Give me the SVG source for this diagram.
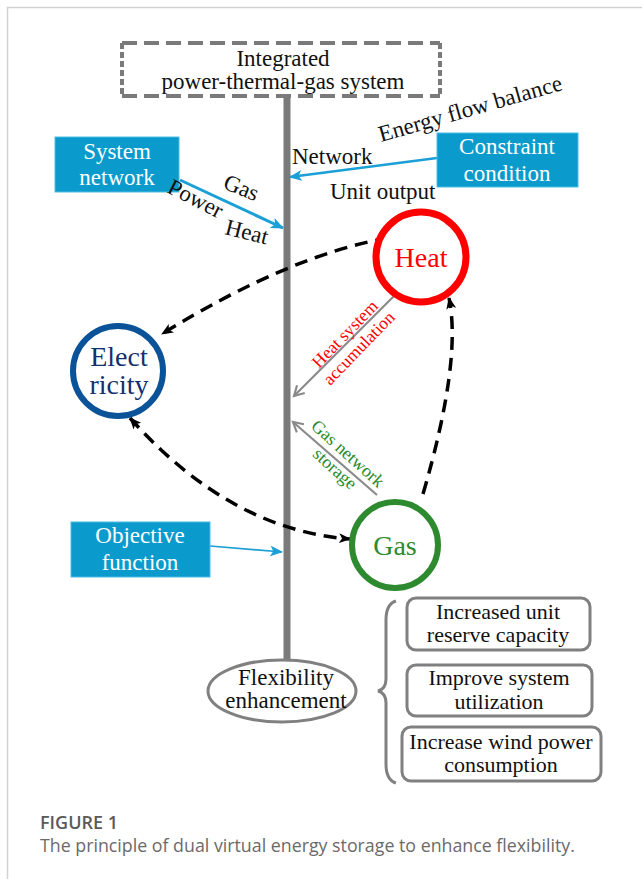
<svg xmlns="http://www.w3.org/2000/svg" width="642" height="879" viewBox="0 0 642 879">
<defs>
<style>
.t{font-family:"Liberation Serif","Times New Roman",serif;font-size:23px;fill:#111}
.b{font-size:22px}
.w{font-family:"Liberation Serif","Times New Roman",serif;font-size:23px;fill:#fff;text-anchor:middle}
.c{font-family:"Liberation Serif","Times New Roman",serif;font-size:28px;text-anchor:middle}
.m{text-anchor:middle}
.bx{fill:#0a9bcc;stroke:#4dbbe3;stroke-width:1}
.rb{fill:#fff;stroke:#808080;stroke-width:3}
.dash{fill:none;stroke:#000;stroke-width:3.5;stroke-dasharray:13 8}
.gray{fill:none;stroke:#8a8a8a;stroke-width:2.2}
.blue{fill:none;stroke:#1a9fd6}
</style>
<marker id="ab" viewBox="0 0 12 10" refX="11" refY="5" markerWidth="12" markerHeight="10" markerUnits="userSpaceOnUse" orient="auto-start-reverse">
<path d="M0,0 L12,5 L0,10 L3,5 z" fill="#000"/>
</marker>
<marker id="ag" viewBox="0 0 12 12" refX="10" refY="6" markerWidth="13" markerHeight="13" markerUnits="userSpaceOnUse" orient="auto">
<path d="M1,1 L10,6 L1,11" fill="none" stroke="#8a8a8a" stroke-width="2"/>
</marker>
<marker id="abl" viewBox="0 0 12 10" refX="11" refY="5" markerWidth="13" markerHeight="11" markerUnits="userSpaceOnUse" orient="auto">
<path d="M0,0 L12,5 L0,10 L3,5 z" fill="#1a9fd6"/>
</marker>
</defs>
<rect width="642" height="879" fill="#fff"/>
<path d="M7.5,879 L7.5,7.5 L642,7.5" fill="none" stroke="#d2d2d2" stroke-width="1.5"/>

<g id="connectors">
<line x1="287" y1="98" x2="287" y2="660" stroke="#7a7a7a" stroke-width="7" stroke-linecap="round"/>
<line class="blue" x1="180" y1="180" x2="283" y2="228" stroke-width="3" marker-end="url(#abl)"/>
<line class="blue" x1="437" y1="158" x2="290" y2="177" stroke-width="2.5" marker-end="url(#abl)"/>
<line class="blue" x1="210" y1="546" x2="282" y2="552" stroke-width="1.6" marker-end="url(#abl)"/>
<path class="dash" d="M388,238 Q290,255 162,334" marker-end="url(#ab)"/>
<path class="dash" d="M130,418 Q230,530 350,539" marker-start="url(#ab)" marker-end="url(#ab)"/>
<path class="dash" d="M423,494 Q462,360 449,298" marker-end="url(#ab)"/>
<line class="gray" x1="396" y1="294" x2="294" y2="396" marker-end="url(#ag)"/>
<line class="gray" x1="377" y1="495" x2="293" y2="422" marker-end="url(#ag)"/>
<path d="M396,601 Q386,604 386,620 L386,679 Q386,689 378,691 Q386,693 386,703 L386,764 Q386,780 396,783" fill="none" stroke="#808080" stroke-width="3"/>
</g>

<g id="title">
<path d="M122,43 L440,43 M122,96 L440,96" stroke="#7a7a7a" stroke-width="4" stroke-dasharray="15 7" fill="none"/>
<path d="M122,43 L122,96 M440,43 L440,96" stroke="#7a7a7a" stroke-width="4" stroke-dasharray="6 3" fill="none"/>
<text class="t m" x="283" y="66" font-size="23.5">Integrated</text>
<text class="t m" x="283" y="89" font-size="23.5">power-thermal-gas system</text>
</g>

<g id="system-network">
<rect class="bx" x="55" y="137" width="124" height="55"/>
<text class="w" x="117" y="159">System</text>
<text class="w" x="117" y="185">network</text>
</g>

<g id="constraint">
<rect class="bx" x="437" y="133" width="141" height="54"/>
<text class="w" x="507" y="154">Constraint</text>
<text class="w" x="507" y="181">condition</text>
</g>

<g id="objective">
<rect class="bx" x="71" y="522" width="139" height="55"/>
<text class="w" x="140" y="543">Objective</text>
<text class="w" x="140" y="570">function</text>
</g>

<g id="heat">
<circle cx="421" cy="257" r="45" fill="#fff" stroke="#f00" stroke-width="7"/>
<text class="c" x="421" y="267" fill="#f00">Heat</text>
</g>

<g id="electricity">
<circle cx="118" cy="371" r="45" fill="#fff" stroke="#0b5398" stroke-width="6"/>
<text class="c" x="119" y="366" fill="#12306e">Elect</text>
<text class="c" x="119" y="394" fill="#12306e">ricity</text>
</g>

<g id="gas">
<circle cx="395" cy="545" r="43" fill="#fff" stroke="#2e8a2e" stroke-width="6"/>
<text class="c" x="395" y="555" fill="#2e8a2e">Gas</text>
</g>

<g id="flexibility">
<ellipse cx="282" cy="691" rx="74" ry="31" fill="#fff" stroke="#808080" stroke-width="3"/>
<text class="t m" x="286" y="685">Flexibility</text>
<text class="t m" x="286" y="708">enhancement</text>
</g>

<g id="reserve">
<rect class="rb" x="407" y="598" width="183" height="52" rx="9"/>
<text class="t b m" x="498" y="619">Increased unit</text>
<text class="t b m" x="498" y="642">reserve capacity</text>
</g>

<g id="utilization">
<rect class="rb" x="407" y="665" width="185" height="51" rx="9"/>
<text class="t b m" x="499" y="685">Improve system</text>
<text class="t b m" x="499" y="709">utilization</text>
</g>

<g id="wind">
<rect class="rb" x="402" y="727" width="199" height="54" rx="9"/>
<text class="t b m" x="501" y="749">Increase wind power</text>
<text class="t b m" x="501" y="772">consumption</text>
</g>

<g id="labels">
<text class="t" transform="translate(222,188) rotate(22)">Gas</text>
<text class="t" transform="translate(166,192) rotate(27)">Power</text>
<text class="t" transform="translate(224,234) rotate(14)">Heat</text>
<text class="t" x="292" y="164">Network</text>
<text class="t" x="330" y="199">Unit output</text>
<text class="t" transform="translate(381,142) rotate(-16)">Energy flow balance</text>
<g font-family="Liberation Serif,serif" font-size="17.5" fill="#f00" text-anchor="middle">
<text transform="translate(349,338) rotate(-46)">Heat system</text>
<text transform="translate(363,352) rotate(-46)">accumulation</text>
</g>
<g font-family="Liberation Serif,serif" font-size="18" fill="#2a8a2a" text-anchor="middle">
<text transform="translate(344,458) rotate(42)">Gas network</text>
<text transform="translate(331,473) rotate(42)">storage</text>
</g>
</g>

<g id="caption">
<text x="40" y="829" font-family="Open Sans,Liberation Sans,sans-serif" font-size="18" font-weight="600" fill="#5a5a5a">FIGURE 1</text>
<text x="40" y="852" font-family="Open Sans,Liberation Sans,sans-serif" font-size="17.8" fill="#6a6a6a">The principle of dual virtual energy storage to enhance flexibility.</text>
</g>
</svg>
